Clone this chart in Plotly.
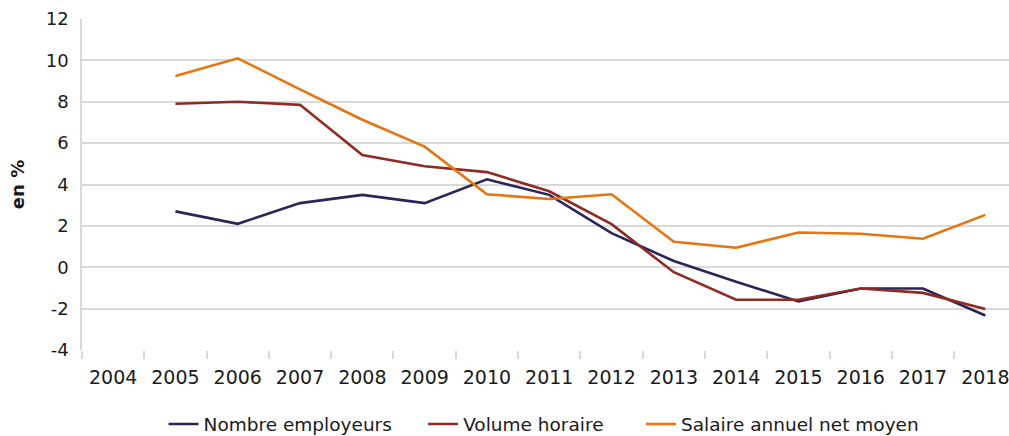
import plotly.graph_objects as go

years = [str(y) for y in range(2004, 2019)]
series_years = years[1:]

nombre_employeurs = [2.7, 2.1, 3.1, 3.5, 3.1, 4.25, 3.5, 1.65, 0.3, -0.7, -1.65, -1.03, -1.03, -2.33]
volume_horaire = [7.9, 8.0, 7.85, 5.43, 4.88, 4.6, 3.67, 2.08, -0.24, -1.57, -1.57, -1.03, -1.24, -2.02]
salaire_annuel = [9.25, 10.1, 8.6, 7.13, 5.83, 3.53, 3.3, 3.53, 1.23, 0.94, 1.68, 1.62, 1.38, 2.53]

y_ticks = [-4, -2, 0, 2, 4, 6, 8, 10, 12]
y_ticktext = [str(v) for v in y_ticks]  # hyphen minus, like the source

font_family = "DejaVu Sans"
text_color = "#1a1a1a"
grid_color = "#d9d9d9"

# (trace name, colour, data, legend id, legend x in plot fraction)
series = [
    ("Nombre employeurs", "#2b2456", nombre_employeurs, "legend", 0.088),
    ("Volume horaire", "#8f2b23", volume_horaire, "legend2", 0.368),
    ("Salaire annuel net moyen", "#e8730f", salaire_annuel, "legend3", 0.603),
]

fig = go.Figure()
for name, color, vals, leg, _ in series:
    fig.add_trace(go.Scatter(x=series_years, y=vals, name=name, mode="lines",
                             line=dict(color=color, width=2.6), legend=leg))

legend_common = dict(orientation="h", y=-0.225, yanchor="middle", xanchor="left",
                     font=dict(size=18.5, color=text_color), itemwidth=30,
                     bgcolor="rgba(0,0,0,0)")
fig.update_layout(
    width=1009, height=436,
    margin=dict(l=82, r=0, t=19, b=86, autoexpand=False),
    paper_bgcolor="white", plot_bgcolor="white",
    font=dict(family=font_family, size=17, color=text_color),
    showlegend=True,
    legend=dict(x=series[0][4], **legend_common),
    legend2=dict(x=series[1][4], **legend_common),
    legend3=dict(x=series[2][4], **legend_common),
)
fig.update_xaxes(
    type="category", categoryorder="array", categoryarray=years,
    range=[-0.5, 14.38], showgrid=False, showline=False, zeroline=False,
    ticks="outside", tickson="boundaries", ticklen=8, tickcolor=grid_color, tickwidth=1.5,
    tickfont=dict(size=19), ticklabelstandoff=14, automargin=False,
)
fig.update_yaxes(
    range=[-4, 12], tickvals=y_ticks, ticktext=y_ticktext,
    showgrid=True, gridcolor=grid_color, gridwidth=1.5,
    zeroline=False, showline=True, linecolor=grid_color, linewidth=1.5,
    tickfont=dict(size=18), ticklabelstandoff=8, automargin=False,
    title=dict(text="<b>en %</b>", font=dict(size=18), standoff=16),
)

# drop the default body margin so the figure fills the window exactly
fig.write_html("out.html", config={"displayModeBar": False},
               post_script="document.body.style.margin='0';document.body.style.overflow='hidden';")
